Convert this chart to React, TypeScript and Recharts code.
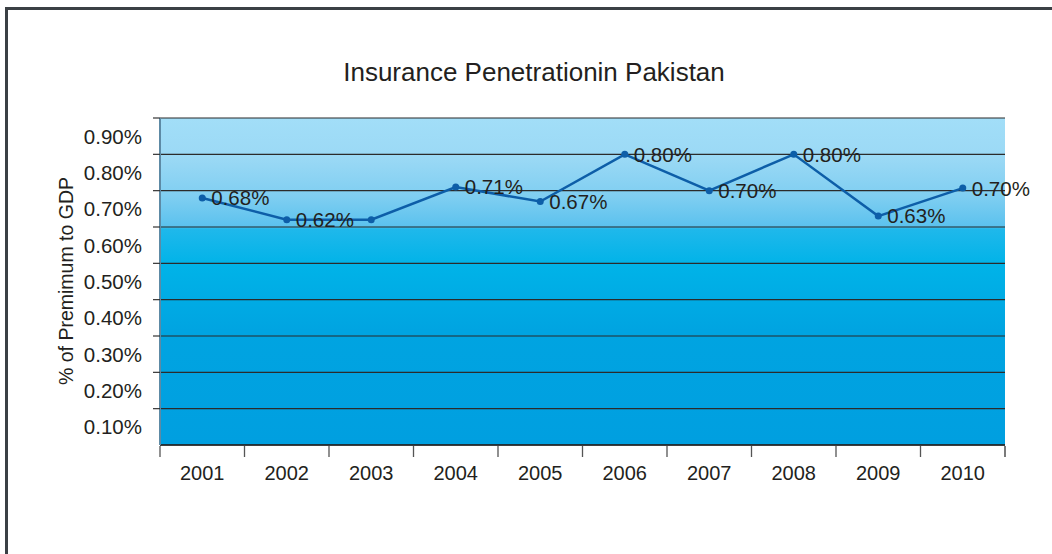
import { LineChart, Line, XAxis, YAxis, CartesianGrid, LabelList } from 'recharts';

const years = ['2001', '2002', '2003', '2004', '2005', '2006', '2007', '2008', '2009', '2010'];
const penetration = [0.68, 0.62, 0.62, 0.71, 0.67, 0.8, 0.7, 0.8, 0.63, 0.707];
const pointLabels = ['0.68%', '0.62%', '', '0.71%', '0.67%', '0.80%', '0.70%', '0.80%', '0.63%', '0.70%'];
const yTicks = [0.1, 0.2, 0.3, 0.4, 0.5, 0.6, 0.7, 0.8, 0.9];
const yTickLabels = ['0.10%', '0.20%', '0.30%', '0.40%', '0.50%', '0.60%', '0.70%', '0.80%', '0.90%'];

const chartData = years.map((year, i) => ({
    year,
    value: penetration[i],
    label: pointLabels[i]
}));

const FONT = '"Liberation Sans", Arial, Helvetica, sans-serif';
const TEXT = '#231f20';
const PLOT_BOTTOM = 445;
const HALF_BAND = 42.25;
const HALF_ROW = 18.2;

function YTick(props: any) {
    const { x, y, payload } = props;
    const idx = yTicks.indexOf(payload.value);
    return (
        <text x={x} y={y + HALF_ROW} dy="0.36em" textAnchor="end" fontSize={20.5} fontFamily={FONT} fill={TEXT}>
            {yTickLabels[idx]}
        </text>
    );
}

function XTick(props: any) {
    const { x, payload, index } = props;
    const last = index === years.length - 1;
    return (
        <g>
            <line x1={x - HALF_BAND} x2={x - HALF_BAND} y1={PLOT_BOTTOM + 1} y2={PLOT_BOTTOM + 12} stroke="#555" strokeWidth={1.3} />
            {last && (
                <line x1={x + HALF_BAND} x2={x + HALF_BAND} y1={PLOT_BOTTOM + 1} y2={PLOT_BOTTOM + 12} stroke="#333" strokeWidth={1.3} />
            )}
            <text x={x} y={PLOT_BOTTOM + 35} textAnchor="middle" fontSize={20} fontFamily={FONT} fill={TEXT}>
                {payload.value}
            </text>
        </g>
    );
}

function PointLabel(props: any) {
    const { x, y, value } = props;
    if (!value) return null;
    return (
        <text x={x + 9} y={y} dy="0.36em" textAnchor="start" fontSize={20.5} fontFamily={FONT} fill={TEXT}>
            {value}
        </text>
    );
}

export default function App() {
    return (
        <div style={{ position: 'absolute', left: 0, top: 0, width: 1052, height: 554, background: 'white', overflow: 'hidden' }}>
            <div style={{ position: 'absolute', left: 5, top: 7, width: 1100, height: 600, borderTop: '3px solid #3b4045', borderLeft: '3px solid #3b4045' }} />

            <div style={{ position: 'absolute', left: 0, width: 1068, top: 57, textAlign: 'center', fontFamily: FONT, fontSize: 26, color: TEXT }}>
                Insurance Penetrationin Pakistan
            </div>

            <div style={{ position: 'absolute', left: 66, top: 281, transform: 'translate(-50%, -50%) rotate(-90deg)', whiteSpace: 'nowrap', fontFamily: FONT, fontSize: 19.5, color: TEXT }}>
                % of Premimum to GDP
            </div>

            <LineChart
                width={1052}
                height={554}
                data={chartData}
                margin={{ top: 118, right: 47, bottom: 69, left: 90 }}
                style={{ position: 'absolute', left: 0, top: 0 }}
            >
                <defs>
                    <linearGradient id="plotBg" x1="0" y1="0" x2="0" y2="1">
                        <stop offset="0%" stopColor="#a2def8" />
                        <stop offset="12%" stopColor="#9bd9f5" />
                        <stop offset="24%" stopColor="#7fcef1" />
                        <stop offset="33%" stopColor="#5cc2ee" />
                        <stop offset="34%" stopColor="#1fb8eb" />
                        <stop offset="45%" stopColor="#00b3e8" />
                        <stop offset="65%" stopColor="#00a4e1" />
                        <stop offset="100%" stopColor="#009fe0" />
                    </linearGradient>
                </defs>
                <CartesianGrid vertical={false} stroke="#2b2b2b" strokeWidth={1.2} fill="url(#plotBg)" fillOpacity={1} />
                <XAxis
                    dataKey="year"
                    scale="band"
                    height={40}
                    tickLine={false}
                    axisLine={{ stroke: '#222', strokeWidth: 1.5 }}
                    tick={<XTick />}
                    interval={0}
                />
                <YAxis
                    width={70}
                    domain={[0, 0.9]}
                    ticks={yTicks}
                    tickSize={7}
                    tickMargin={11}
                    tickLine={{ stroke: '#333', strokeWidth: 1.2 }}
                    axisLine={{ stroke: '#5d8aa5', strokeWidth: 2 }}
                    tick={<YTick />}
                    interval={0}
                />
                <YAxis
                    yAxisId="right"
                    orientation="right"
                    width={0}
                    tick={false}
                    tickLine={false}
                    axisLine={{ stroke: '#3f6b86', strokeWidth: 2 }}
                />
                <Line
                    type="linear"
                    dataKey="value"
                    stroke="#0d5ea8"
                    strokeWidth={2.5}
                    dot={{ r: 3.5, fill: '#0d5ea8', stroke: 'none' }}
                    activeDot={false}
                    isAnimationActive={false}
                >
                    <LabelList dataKey="label" content={<PointLabel />} />
                </Line>
            </LineChart>
        </div>
    );
}
